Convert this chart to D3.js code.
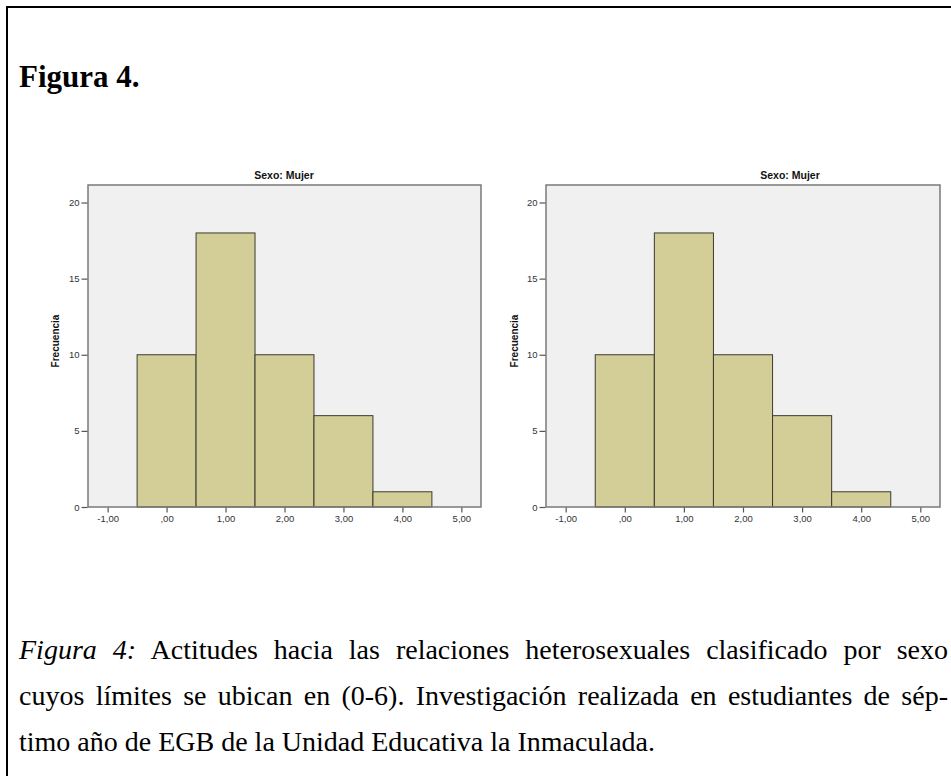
<!DOCTYPE html>
<html>
<head>
<meta charset="utf-8">
<script src="https://cdn.jsdelivr.net/npm/d3@7/dist/d3.min.js"></script>
<style>
  html, body { margin: 0; padding: 0; background: #fff; }
  body { width: 951px; height: 776px; position: relative; overflow: hidden; }
  #chart { position: absolute; left: 0; top: 0; }
  #caption {
    position: absolute; left: 19px; top: 627px; width: 929px;
    font-family: "Liberation Serif", "Times New Roman", serif;
    font-size: 28px; line-height: 46px; color: #000;
  }
  #caption .j { text-align: justify; text-align-last: justify; white-space: nowrap; }
  #caption .l { text-align: left; white-space: nowrap; }
</style>
</head>
<body>
<svg id="chart" width="951" height="776"></svg>
<div id="caption"></div>
<script>
// ---- data ----
const heading = "Figura 4.";
const panelTitles = ["Sexo: Mujer", "Sexo: Mujer"];
const yLabel = "Frecuencia";
const binCenters = [0, 1, 2, 3, 4];
const freqLeft = [10, 18, 10, 6, 1];
const freqRight = [10, 18, 10, 6, 1];
const yTicks = [0, 5, 10, 15, 20];
const xTicks = [-1, 0, 1, 2, 3, 4, 5];
const xTickLabels = ["-1,00", ",00", "1,00", "2,00", "3,00", "4,00", "5,00"];
const captionLines = [
  ["Figura 4:", " Actitudes hacia las relaciones heterosexuales clasificado por sexo"],
  ["", "cuyos límites se ubican en (0-6). Investigación realizada en estudiantes de sép-"],
  ["", "timo año de EGB de la Unidad Educativa la Inmaculada."]
];

// ---- layout ----
const svg = d3.select("#chart");
const sans = "'Liberation Sans', Arial, sans-serif";

// page frame
svg.append("rect").attr("x", 7).attr("y", 7).attr("width", 1200).attr("height", 1200)
  .attr("fill", "none").attr("stroke", "#000").attr("stroke-width", 2);

svg.append("text").attr("x", 19).attr("y", 87)
  .attr("font-family", "'Liberation Serif', 'Times New Roman', serif")
  .attr("font-size", 31).attr("font-weight", "bold").text(heading);

const panels = [
  { x0: 88, x1: 481, titleX: 284, labelX: 55, data: freqLeft, title: panelTitles[0] },
  { x0: 546, x1: 940, titleX: 790, labelX: 514, data: freqRight, title: panelTitles[1] }
];
const yTop = 185, yBot = 507;

panels.forEach(p => {
  const x = d3.scaleLinear().domain([-1.333, 5.333]).range([p.x0, p.x1]);
  const y = d3.scaleLinear().domain([0, 21.15]).range([yBot, yTop]);
  const g = svg.append("g");

  g.append("rect").attr("x", p.x0).attr("y", yTop)
    .attr("width", p.x1 - p.x0).attr("height", yBot - yTop).attr("fill", "#f0f0f0");

  g.selectAll("rect.bar").data(binCenters.map((c, i) => ({ c, v: p.data[i] })))
    .enter().append("rect").attr("class", "bar")
    .attr("x", d => x(d.c - 0.5)).attr("width", d => x(d.c + 0.5) - x(d.c - 0.5))
    .attr("y", d => y(d.v)).attr("height", d => y(0) - y(d.v))
    .attr("fill", "#d3ce97").attr("stroke", "#3b3b2e").attr("stroke-width", 1);

  g.append("rect").attr("x", p.x0).attr("y", yTop)
    .attr("width", p.x1 - p.x0).attr("height", yBot - yTop)
    .attr("fill", "none").attr("stroke", "#7a7a7a").attr("stroke-width", 1.5);

  const ya = g.append("g").attr("transform", `translate(${p.x0 - 0.5},0)`)
    .call(d3.axisLeft(y).tickValues(yTicks).tickSize(6).tickPadding(2).tickFormat(d3.format("d")));
  const xa = g.append("g").attr("transform", `translate(0,${yBot + 0.5})`)
    .call(d3.axisBottom(x).tickValues(xTicks).tickSize(5).tickPadding(3)
      .tickFormat((d, i) => xTickLabels[i]));
  [ya, xa].forEach(a => {
    a.select(".domain").remove();
    a.selectAll("line").attr("stroke", "#555").attr("stroke-width", 1.2);
    a.selectAll("text").attr("fill", "#333").attr("font-family", sans).attr("font-size", 9.5);
  });

  g.append("text").attr("x", p.titleX).attr("y", 179).attr("text-anchor", "middle")
    .attr("font-family", sans).attr("font-size", 10.5).attr("font-weight", "bold")
    .attr("fill", "#111").text(p.title);

  g.append("text").attr("transform", `translate(${p.labelX + 3.5},341) rotate(-90)`)
    .attr("text-anchor", "middle").attr("font-family", sans).attr("font-size", 10)
    .attr("font-weight", "bold").attr("fill", "#111").text(yLabel);
});

// caption
const cap = d3.select("#caption");
captionLines.forEach((ln, i) => {
  const div = cap.append("div").attr("class", i < 2 ? "j" : "l");
  if (ln[0]) div.append("i").text(ln[0]);
  div.append("span").text(ln[1]);
});
</script>
</body>
</html>
